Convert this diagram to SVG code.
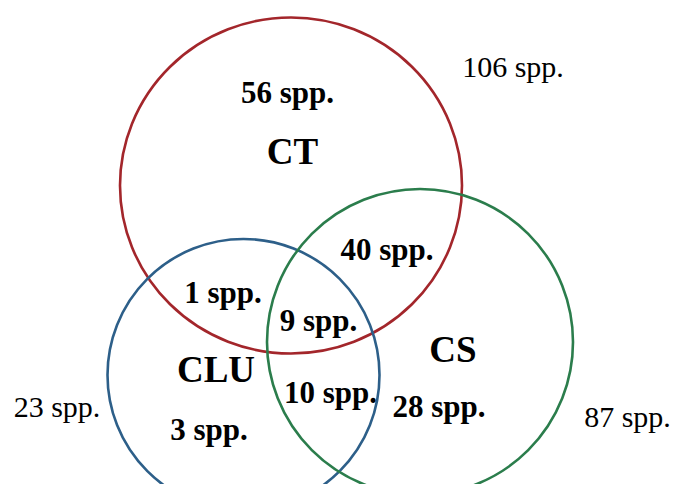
<svg xmlns="http://www.w3.org/2000/svg" width="678" height="484" viewBox="0 0 678 484">
<style>
.c{fill:none;stroke-width:2.6}
.b{font-family:"Liberation Serif","Times New Roman",serif;font-weight:bold;font-size:31px;text-anchor:middle;fill:#000}
.l{font-family:"Liberation Serif","Times New Roman",serif;font-weight:bold;font-size:37px;text-anchor:middle;fill:#000}
.r{font-family:"Liberation Serif","Times New Roman",serif;font-size:30px;text-anchor:middle;fill:#000}
</style>
<rect width="678" height="484" fill="#fff"/>
<g id="CT">
<ellipse class="c" cx="291" cy="185.5" rx="171" ry="168" stroke="#a3262b"/>
<text class="b" x="287.5" y="103">56 spp.</text>
<text class="l" x="292.5" y="164">CT</text>
</g>
<g id="CLU">
<circle class="c" cx="243.5" cy="375" r="136" stroke="#2d5f89"/>
<text class="l" x="216" y="382">CLU</text>
<text class="b" x="209" y="440">3 spp.</text>
</g>
<g id="CS">
<circle class="c" cx="420" cy="342" r="153" stroke="#2b7d4c"/>
<text class="l" x="453" y="362">CS</text>
<text class="b" x="439" y="417">28 spp.</text>
</g>
<g id="overlaps">
<text class="b" x="223" y="303">1 spp.</text>
<text class="b" x="318.5" y="331">9 spp.</text>
<text class="b" x="330.5" y="403">10 spp.</text>
<text class="b" x="387" y="260">40 spp.</text>
</g>
<g id="totals">
<text class="r" x="513" y="77">106 spp.</text>
<text class="r" x="57" y="417">23 spp.</text>
<text class="r" x="627.5" y="427">87 spp.</text>
</g>
<g id="connectors"/>
</svg>
